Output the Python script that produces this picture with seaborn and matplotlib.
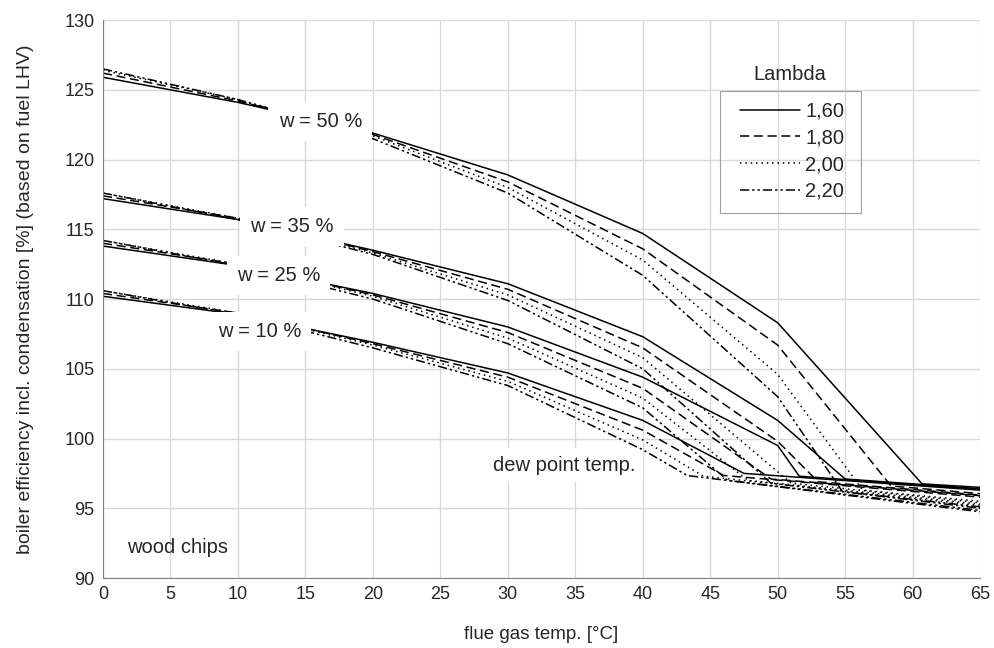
import numpy as np
import pandas as pd
import matplotlib
matplotlib.use("Agg")
import matplotlib.pyplot as plt
from matplotlib.patches import Rectangle
import seaborn as sns

nan = np.nan

# flue gas temperatures of the condensing part (points beyond the dew point are nan)
flue_grid = [0, 10, 20, 30, 40, 50]
flue_end = 65
lambdas = ["1,60", "1,80", "2,00", "2,20"]
moisture = [10, 25, 35, 50]

# efficiency per lambda (rows) at flue_grid
eff_w10 = [[110.2, 108.9, 106.9, 104.7, 101.3, nan],
           [110.4, 109.0, 106.8, 104.4, 100.6, nan],
           [110.6, 109.0, 106.7, 104.1, 99.9, nan],
           [110.6, 108.9, 106.5, 103.8, 99.2, nan]]
eff_w25 = [[113.8, 112.4, 110.4, 108.0, 104.4, 99.5],
           [114.0, 112.5, 110.3, 107.6, 103.6, nan],
           [114.2, 112.5, 110.2, 107.2, 102.9, nan],
           [114.2, 112.4, 110.0, 106.8, 102.2, nan]]
eff_w35 = [[117.2, 115.7, 113.5, 111.1, 107.3, 101.3],
           [117.4, 115.8, 113.4, 110.7, 106.5, 99.8],
           [117.6, 115.8, 113.3, 110.3, 105.8, nan],
           [117.6, 115.7, 113.2, 109.9, 105.0, nan]]
eff_w50 = [[125.9, 124.1, 121.9, 118.9, 114.7, 108.3],
           [126.2, 124.2, 121.8, 118.4, 113.6, 106.7],
           [126.4, 124.3, 121.7, 118.0, 112.8, 104.6],
           [126.5, 124.3, 121.5, 117.6, 111.7, 103.0]]

# dew point (kink) per lambda
dew_x_w10 = [47.5, 46.0, 44.5, 43.3]
dew_y_w10 = [97.5, 97.35, 97.3, 97.35]
dew_x_w25 = [51.6, 49.5, 47.8, 46.3]
dew_y_w25 = [97.3, 97.1, 97.0, 97.0]
dew_x_w35 = [55.0, 53.0, 51.0, 49.5]
dew_y_w35 = [97.1, 96.9, 96.8, 96.8]
dew_x_w50 = [60.7, 58.4, 56.3, 54.8]
dew_y_w50 = [96.75, 96.6, 96.3, 96.2]

# efficiency at 65 °C per lambda
end_w10 = [96.3, 95.8, 95.2, 94.75]
end_w25 = [96.35, 95.9, 95.3, 94.85]
end_w35 = [96.4, 95.95, 95.4, 95.0]
end_w50 = [96.5, 96.05, 95.5, 95.1]

rows = []
for w, eff, dx, dy, ey in zip(moisture,
                              [eff_w10, eff_w25, eff_w35, eff_w50],
                              [dew_x_w10, dew_x_w25, dew_x_w35, dew_x_w50],
                              [dew_y_w10, dew_y_w25, dew_y_w35, dew_y_w50],
                              [end_w10, end_w25, end_w35, end_w50]):
    for lam, vals, x_d, y_d, y_e in zip(lambdas, eff, dx, dy, ey):
        for x, v in zip(flue_grid, vals):
            if not np.isnan(v):
                rows.append((x, v, w, lam))
        rows.append((x_d, y_d, w, lam))
        rows.append((flue_end, y_e, w, lam))
df = pd.DataFrame(rows, columns=["flue", "eff", "w", "Lambda"])

sns.set_style("white")
plt.rcParams["font.family"] = ["Liberation Sans", "DejaVu Sans"]

fig, ax = plt.subplots(figsize=(9.94, 6.48), dpi=100)
fig.subplots_adjust(left=0.1036, right=0.986, top=0.969, bottom=0.108)

dashes = {"1,60": "", "1,80": (6, 3), "2,00": (1, 2.5), "2,20": (6, 2, 1.5, 2, 1.5, 2)}
sns.lineplot(data=df, x="flue", y="eff", style="Lambda", units="w", estimator=None,
             color="black", lw=1.1, dashes=dashes, ax=ax)

fs = 14.5
ax.set_xlim(0, 65)
ax.set_ylim(90, 130)
ax.set_xticks(range(0, 66, 5))
ax.set_yticks(range(90, 131, 5))
ax.tick_params(labelsize=13, length=0, pad=6)
ax.grid(color="#d9d9d9", lw=1)
ax.set_axisbelow(True)
for s in ["top", "right"]:
    ax.spines[s].set_visible(False)
for s in ["left", "bottom"]:
    ax.spines[s].set_color("#808080")
ax.set_xlabel("flue gas temp. [°C]", fontsize=13.5, labelpad=16)
ax.set_ylabel("boiler efficiency incl. condensation [%] (based on fuel LHV)", fontsize=14, labelpad=22)

box = dict(facecolor="white", edgecolor="none", boxstyle="square,pad=0.5")
for x, y, t in [(16.1, 122.7, "w = 50 %"), (14.0, 115.2, "w = 35 %"),
                (13.0, 111.7, "w = 25 %"), (11.6, 107.65, "w = 10 %")]:
    ax.text(x, y, t, ha="center", va="center", fontsize=fs, bbox=box, zorder=4)
ax.text(34.2, 98.1, "dew point temp.", ha="center", va="center", fontsize=fs,
        bbox=dict(facecolor="white", edgecolor="none", boxstyle="square,pad=0.35"), zorder=1.5)
ax.text(5.5, 92.2, "wood chips", ha="center", va="center", fontsize=fs)

# legend without its own frame, the frame is drawn as a rectangle
handles, labels = ax.get_legend_handles_labels()
ax.legend(handles, labels, loc="upper left", bbox_to_anchor=(0.7263, 0.8536),
          fontsize=fs, handlelength=3.0, handletextpad=0.25, labelspacing=0.38,
          borderpad=0, borderaxespad=0, frameon=False)
ax.add_patch(Rectangle((0.7035, 0.654), 0.1605, 0.219, transform=ax.transAxes,
                       facecolor="none", edgecolor="#a0a0a0", lw=0.8, zorder=5))
ax.text(0.783, 0.903, "Lambda", transform=ax.transAxes, ha="center", va="center", fontsize=fs)

fig.savefig("out.png", dpi=100)
